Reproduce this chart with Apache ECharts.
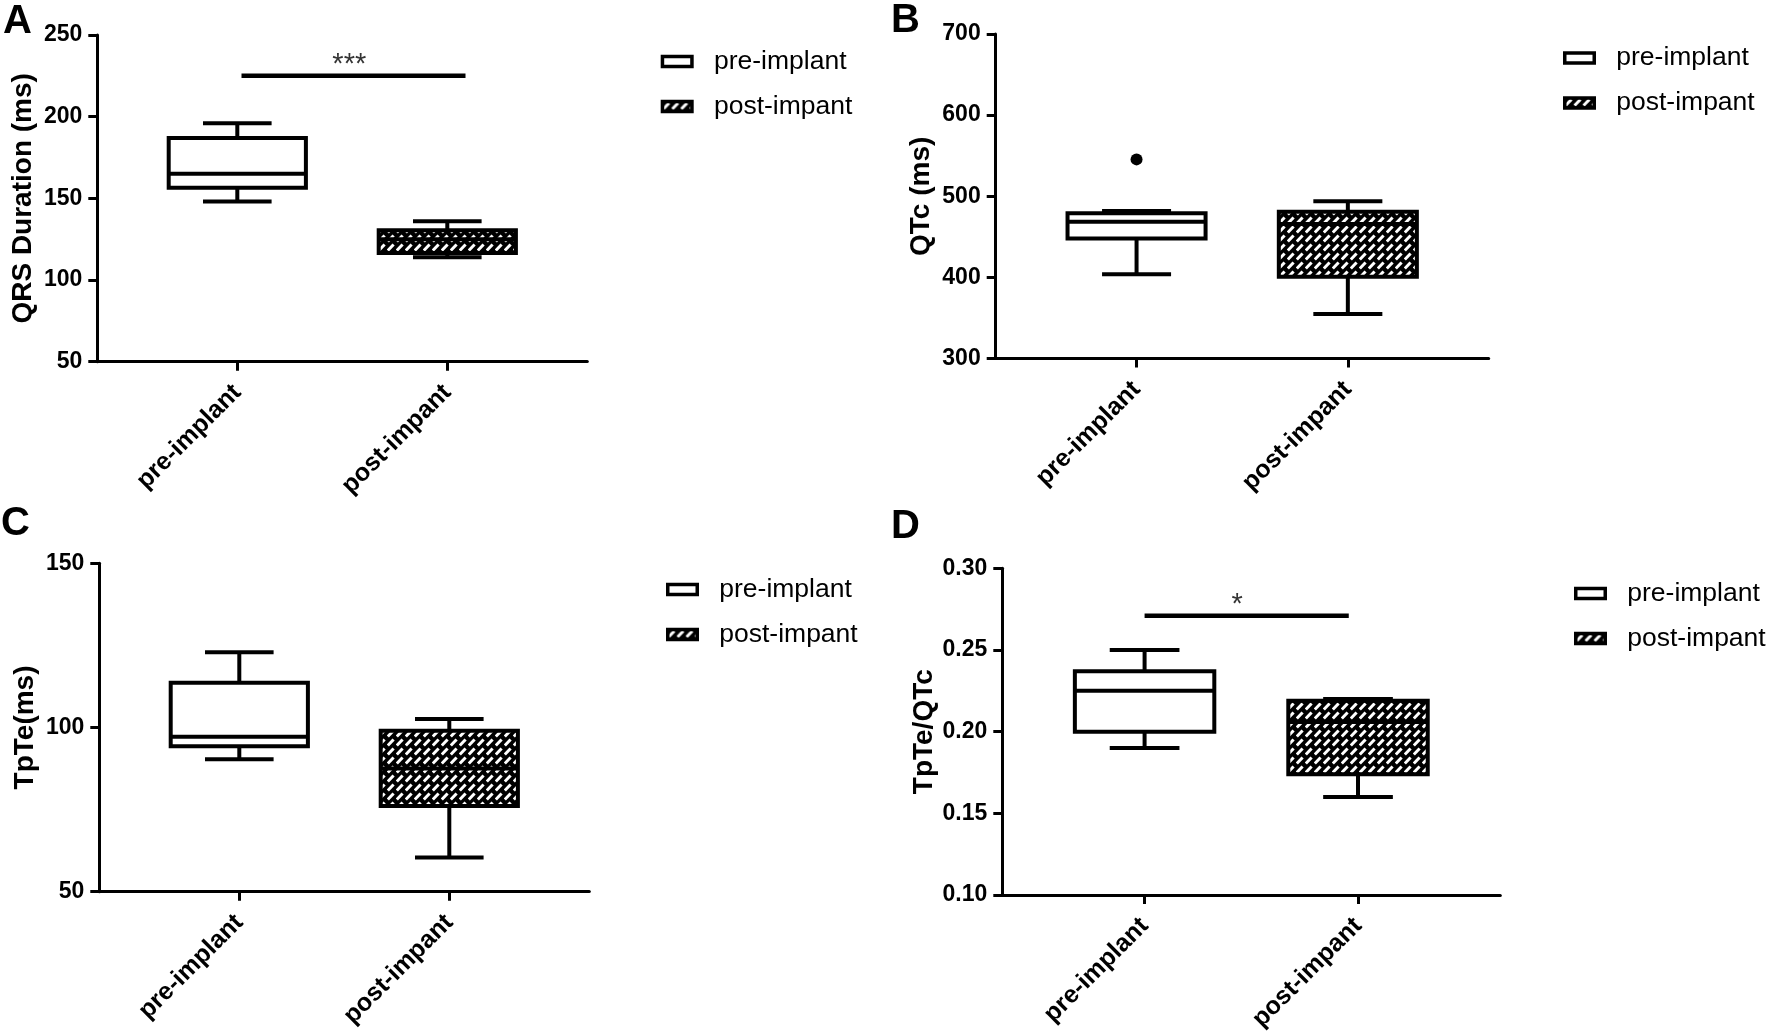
<!DOCTYPE html>
<html>
<head>
<meta charset="utf-8">
<script src="https://cdn.jsdelivr.net/npm/echarts@6/dist/echarts.min.js"></script>
<style>
html,body{margin:0;padding:0;background:#fff;}
#chart{width:1772px;height:1036px;}
</style>
</head>
<body>
<div id="chart"></div>
<script>
// ---- data ----
const categories = ['pre-implant', 'post-impant'];
const catPos = [2, 5];
const seriesNames = ['pre-implant', 'post-impant'];
// [min, q1, median, q3, max]
const qrsPre = [148, 156.5, 165, 187, 196];
const qrsPost = [114, 116.5, 125, 130.5, 136];
const qtcPre = [404, 448, 468.6, 479, 482];
const qtcPreOutliers = [545.5];
const qtcPost = [355, 401, 466, 481, 494];
const tpePre = [90.3, 94.3, 97.2, 113.6, 122.9];
const tpePost = [60.4, 76.1, 87.5, 99, 102.6];
const ratioPre = [0.190, 0.200, 0.225, 0.237, 0.250];
const ratioPost = [0.160, 0.174, 0.206, 0.219, 0.220];
// significance bars: [xFrom, xTo], y level, star x, label
const sigQrsX = [2.06, 5.26], sigQrsY = 225, sigQrsStarX = 3.6, sigQrsText = '***';
const sigRatioX = [2.0, 4.87], sigRatioY = 0.2710, sigRatioStarX = 3.30, sigRatioText = '*';
// axis ticks [min, max, interval]
const qrsTicks = [50, 250, 50];
const qtcTicks = [300, 700, 100];
const tpeTicks = [50, 150, 50];
const ratioTicks = [0.10, 0.30, 0.05];
const yNames = ['QRS Duration (ms)', 'QTc (ms)', 'TpTe(ms)', 'TpTe/QTc'];
const panelLetters = ['A', 'B', 'C', 'D'];

// ---- styles ----
const FONT = 'Liberation Sans, Arial, Helvetica, sans-serif';
function makeHatch() {
  const c = document.createElement('canvas');
  c.width = 9; c.height = 9;
  const g = c.getContext('2d');
  g.fillStyle = '#000'; g.fillRect(0, 0, 9, 9);
  g.strokeStyle = '#fff'; g.lineWidth = 3; g.lineCap = 'butt';
  g.beginPath();
  g.moveTo(0.8, 7.6); g.lineTo(6.6, 1.4);
  g.stroke();
  return c;
}
const hatch = { image: makeHatch(), repeat: 'repeat' };
const fills = ['#ffffff', hatch];

const grids = [
  { left: 97.3, top: 35, width: 490, height: 326.7 },
  { left: 995.7, top: 34, width: 493, height: 324.6 },
  { left: 99.3, top: 563.2, width: 490, height: 328.5 },
  { left: 1002.3, top: 568.3, width: 498, height: 326.8 }
];
const legendPos = [
  { left: 660.7, top: 48 },
  { left: 1563, top: 44.5 },
  { left: 666, top: 576 },
  { left: 1574, top: 580 }
];
const letterPos = [
  { left: 3, top: 1.5 },
  { left: 891, top: 0.5 },
  { left: 1, top: 504 },
  { left: 891, top: 507 }
];
const tickSets = [qrsTicks, qtcTicks, tpeTicks, ratioTicks];
const boxData = [[qrsPre, qrsPost], [qtcPre, qtcPost], [tpePre, tpePost], [ratioPre, ratioPost]];

function renderBox(fill) {
  return function (params, api) {
    const x = api.value(0);
    const v = [api.value(1), api.value(2), api.value(3), api.value(4), api.value(5)];
    const unit = api.size([1, 0])[0];
    const halfBox = unit * 0.98;
    const halfCap = halfBox / 2;
    const cx = api.coord([x, v[2]])[0];
    const y = v.map(function (d) { return api.coord([x, d])[1]; });
    const ls = { stroke: '#000', lineWidth: 4, fill: null };
    return {
      type: 'group',
      children: [
        { type: 'line', shape: { x1: cx, y1: y[4], x2: cx, y2: y[3] }, style: ls },
        { type: 'line', shape: { x1: cx, y1: y[1], x2: cx, y2: y[0] }, style: ls },
        { type: 'line', shape: { x1: cx - halfCap, y1: y[4], x2: cx + halfCap, y2: y[4] }, style: ls },
        { type: 'line', shape: { x1: cx - halfCap, y1: y[0], x2: cx + halfCap, y2: y[0] }, style: ls },
        { type: 'rect', shape: { x: cx - halfBox, y: y[3], width: 2 * halfBox, height: y[1] - y[3] },
          style: { fill: fill, stroke: '#000', lineWidth: 4 } },
        { type: 'line', shape: { x1: cx - halfBox, y1: y[2], x2: cx + halfBox, y2: y[2] }, style: ls }
      ]
    };
  };
}

const option = {
  animation: false,
  backgroundColor: '#fff',
  textStyle: { fontFamily: FONT },
  title: [], grid: [], xAxis: [], yAxis: [], legend: [], series: []
};

for (let i = 0; i < 4; i++) {
  option.title.push({
    text: panelLetters[i], left: letterPos[i].left, top: letterPos[i].top, padding: 0,
    textStyle: { fontFamily: FONT, fontSize: 40, fontWeight: 'bold', color: '#000' }
  });
  option.grid.push(Object.assign({ containLabel: false }, grids[i]));
  option.xAxis.push({
    type: 'value', gridIndex: i, min: 0, max: 7,
    splitLine: { show: false },
    axisLine: { show: true, onZero: false, lineStyle: { color: '#000', width: 3 } },
    axisTick: { show: true, customValues: catPos, length: 9, lineStyle: { color: '#000', width: 3 } },
    axisLabel: {
      show: true, customValues: catPos, rotate: 45, margin: 27,
      fontFamily: FONT, fontSize: 25, fontWeight: 'bold', color: '#000',
      formatter: function (val) { const k = catPos.indexOf(Math.round(val)); return k >= 0 ? categories[k] : ''; }
    }
  });
  const t = tickSets[i];
  option.yAxis.push({
    type: 'value', gridIndex: i, min: t[0], max: t[1], interval: t[2],
    name: yNames[i], nameLocation: 'middle', nameGap: 60,
    nameTextStyle: { fontFamily: FONT, fontSize: 28, fontWeight: 'bold', color: '#000' },
    splitLine: { show: false },
    axisLine: { show: true, onZero: false, lineStyle: { color: '#000', width: 3 } },
    axisTick: { show: true, length: 9, lineStyle: { color: '#000', width: 3 } },
    axisLabel: {
      margin: 15, fontFamily: FONT, fontSize: 23, fontWeight: 'bold', color: '#000',
      formatter: i === 3 ? function (v) { return v.toFixed(2); } : function (v) { return String(Math.round(v)); }
    }
  });
  option.legend.push({
    orient: 'vertical', left: legendPos[i].left, top: legendPos[i].top,
    itemWidth: 29.5, itemHeight: 10, itemGap: 18, selectedMode: false, padding: 0,
    textStyle: { fontFamily: FONT, fontSize: 26.5, color: '#000', padding: [0, 0, 0, 17] },
    data: [
      { name: seriesNames[0], icon: 'rect', itemStyle: { color: '#fff', borderColor: '#000', borderWidth: 3.5 } },
      { name: seriesNames[1], icon: 'rect', itemStyle: { color: hatch, borderColor: '#000', borderWidth: 3.5 } }
    ]
  });
  for (let s = 0; s < 2; s++) {
    option.series.push({
      type: 'custom', name: seriesNames[s], xAxisIndex: i, yAxisIndex: i,
      renderItem: renderBox(fills[s]),
      itemStyle: { color: s === 0 ? '#fff' : '#000', borderColor: '#000' },
      encode: { x: 0, y: [1, 2, 3, 4, 5] },
      data: [[catPos[s]].concat(boxData[i][s])],
      z: 3
    });
  }
}

// outlier
option.series.push({
  type: 'scatter', xAxisIndex: 1, yAxisIndex: 1, symbolSize: 12,
  itemStyle: { color: '#000', opacity: 1 },
  data: qtcPreOutliers.map(function (v) { return [catPos[0], v]; }), z: 4
});

// significance bars
function sig(idx, xs, y, starX, text) {
  option.series.push({
    type: 'line', xAxisIndex: idx, yAxisIndex: idx, symbol: 'none',
    lineStyle: { color: '#000', width: 4.5 },
    data: [[xs[0], y], [xs[1], y]], z: 4
  });
  option.series.push({
    type: 'scatter', xAxisIndex: idx, yAxisIndex: idx, symbolSize: 0,
    label: { show: true, position: 'top', distance: -4, formatter: text,
      fontFamily: FONT, fontSize: 29, color: '#000' },
    data: [[starX, y]], z: 4
  });
}
sig(0, sigQrsX, sigQrsY, sigQrsStarX, sigQrsText);
sig(3, sigRatioX, sigRatioY, sigRatioStarX, sigRatioText);

const chart = echarts.init(document.getElementById('chart'), null, { renderer: 'canvas' });
chart.setOption(option);
</script>
</body>
</html>
